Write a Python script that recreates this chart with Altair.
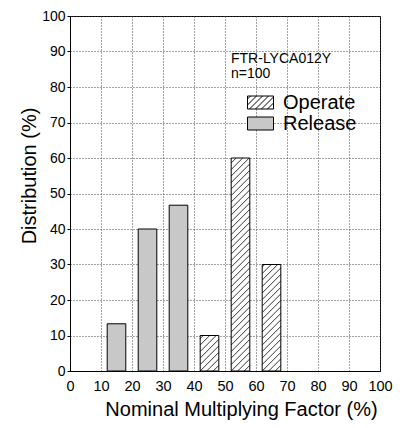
import altair as alt
import pandas as pd
import numpy as np

# ---- data ----
release_x = [15, 25, 35]
release_y = [13.3, 40, 46.7]
operate_x = [45, 55, 65]
operate_y = [10, 60, 30]
x_ticks = list(range(0, 101, 10))
y_ticks = list(range(0, 101, 10))
series = ["Operate", "Release"]
note = ["FTR-LYCA012Y", "n=100"]
x_title = "Nominal Multiplying Factor (%)"
y_title = "Distribution (%)"

# ---- layout constants ----
W, H = 310, 355
BAR_W = 6          # bar width in data units
HATCH = 6.5        # hatch spacing in pixels
FONT = "Liberation Sans"

bars = pd.DataFrame({
    "center": release_x + operate_x,
    "value": release_y + operate_y,
    "type": ["Release"] * len(release_x) + ["Operate"] * len(operate_x),
})
bars["x0"] = bars["center"] - BAR_W / 2
bars["x1"] = bars["center"] + BAR_W / 2

# hatch segments derived from the operate bars
sx, sy = W / 100.0, H / 100.0
seg = []
for c, v in zip(operate_x, operate_y):
    X0 = (c - BAR_W / 2) * sx
    Wb = BAR_W * sx
    Hb = v * sy
    k = -np.floor(Hb / HATCH) * HATCH
    while k < Wb:
        u0 = max(0.0, k)
        u1 = min(Wb, Hb + k)
        if u1 - u0 > 0.8:
            seg.append({
                "xa": (X0 + u0) / sx, "ya": (u0 - k) / sy,
                "xb": (X0 + u1) / sx, "yb": (u1 - k) / sy,
            })
        k += HATCH
hatch = pd.DataFrame(seg)

# legend symbol paths (unit = sqrt(size)/2 px)
RX, RY = 1.3, 0.65
rect_path = f"M{-RX},{-RY}H{RX}V{RY}H{-RX}Z"
hp = [rect_path]
step = 0.6
kk = -RX - 2 * RY + step / 2
while kk < RX:
    xa = max(-RX, kk)
    xb = min(RX, kk + 2 * RY)
    if xb - xa > 0.05:
        ya = RY - (xa - kk)
        yb = RY - (xb - kk)
        hp.append(f"M{xa:.3f},{ya:.3f}L{xb:.3f},{yb:.3f}")
    kk += step
op_path = "".join(hp)

xs = alt.Scale(domain=[0, 100], nice=False, zero=False)
ys = alt.Scale(domain=[0, 100], nice=False)
fill_scale = alt.Scale(domain=series, range=["white", "#c8c8c8"])
shape_scale = alt.Scale(domain=series, range=[op_path, rect_path])
stroke_scale = alt.Scale(domain=series, range=["black", "black"])

x_axis = alt.Axis(values=x_ticks, ticks=False, labelPadding=8, labelFlush=False,
                  labelFontSize=14.5,
                  titleX=171, titleY=44, titleBaseline="alphabetic",
                  titleAlign="center")
y_axis = alt.Axis(values=y_ticks, tickSize=3, labelPadding=2, labelFlush=False,
                  titleX=-35, titleY=159.5, titleBaseline="alphabetic",
                  titleAlign="center", titleAngle=270)

legend = alt.Legend(
    title=note,
    orient="none",
    legendX=161,
    legendY=36,
    padding=0,
    titleFont=FONT,
    titleFontSize=14,
    titleFontWeight="normal",
    titleColor="black",
    titleLineHeight=15,
    titlePadding=11,
    labelFont=FONT,
    labelFontSize=20,
    labelColor="black",
    labelOffset=12,
    symbolSize=400,
    symbolOffset=19,
    symbolOpacity=1,
    symbolStrokeWidth=1,
    rowPadding=-1,
)

bar_layer = alt.Chart(bars).mark_rect(stroke="black", strokeWidth=1).encode(
    x=alt.X("x0:Q", scale=xs, title=x_title, axis=x_axis),
    x2="x1:Q",
    y=alt.Y("value:Q", scale=ys, title=y_title, axis=y_axis),
    y2=alt.datum(0),
    fill=alt.Fill("type:N", scale=fill_scale, legend=legend),
)

hatch_layer = alt.Chart(hatch).mark_rule(color="black", strokeWidth=0.8).encode(
    x=alt.X("xa:Q", scale=xs, title=x_title, axis=x_axis),
    y=alt.Y("ya:Q", scale=ys, title=y_title, axis=y_axis),
    x2="xb:Q",
    y2="yb:Q",
)

legend_layer = alt.Chart(bars).mark_point(
    filled=True, opacity=0, size=400, strokeWidth=1
).encode(
    x=alt.X("center:Q", scale=xs, title=x_title, axis=x_axis),
    y=alt.Y("value:Q", scale=ys, title=y_title, axis=y_axis),
    fill=alt.Fill("type:N", scale=fill_scale, legend=legend),
    shape=alt.Shape("type:N", scale=shape_scale, legend=legend),
    stroke=alt.Stroke("type:N", scale=stroke_scale, legend=legend),
)

chart = alt.layer(bar_layer, hatch_layer, legend_layer).properties(
    width=W, height=H,
    autosize=alt.AutoSizeParams(type="none"),
    padding={"left": 62, "top": 8, "right": 14, "bottom": 49},
).configure_view(
    stroke="black", strokeWidth=1
).configure_axis(
    labelFont=FONT, labelFontSize=14, labelColor="black",
    titleFont=FONT, titleFontSize=20, titleFontWeight="normal", titleColor="black",
    domainColor="black", tickColor="black",
    gridColor="#444", gridDash=[1, 2], gridWidth=1, gridOpacity=1,
    labelOverlap=False,
)

chart.save("out.html", embed_options={"renderer": "svg", "actions": False})
